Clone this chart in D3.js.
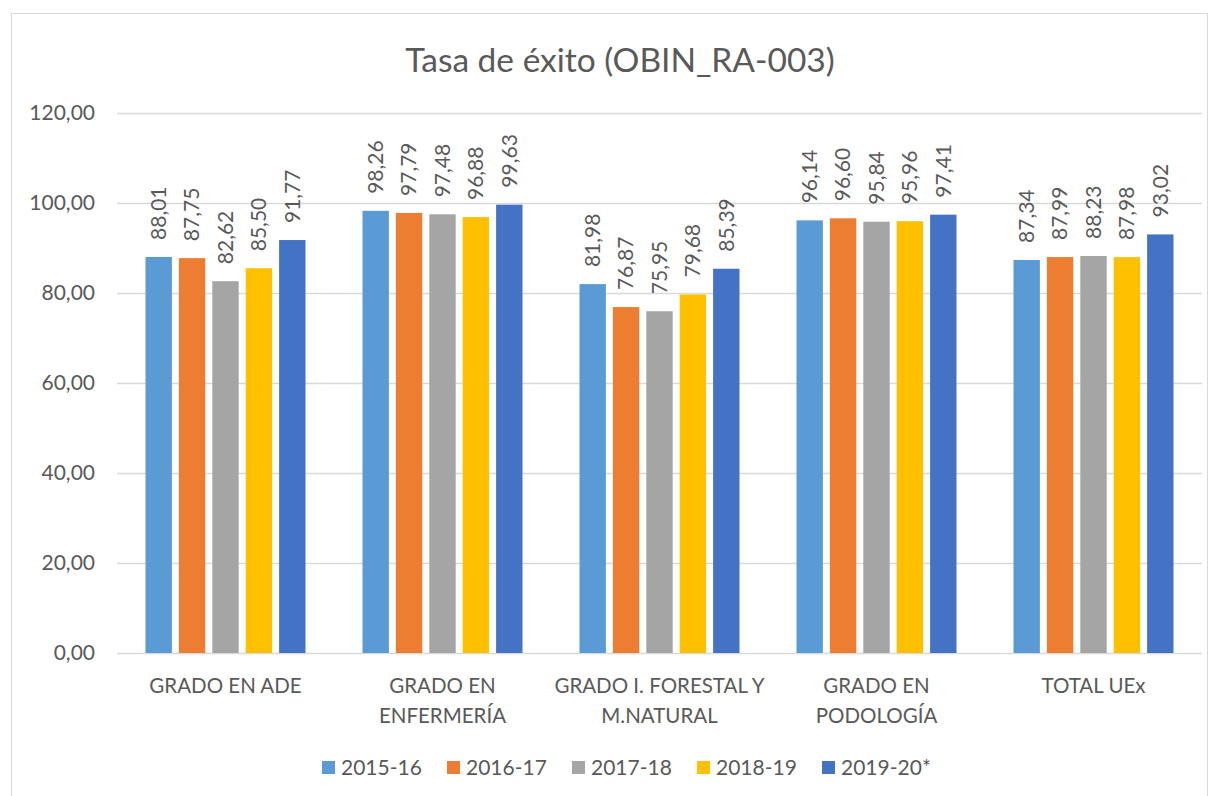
<!DOCTYPE html>
<html>
<head>
<meta charset="utf-8">
<script src="https://cdn.jsdelivr.net/npm/d3@7"></script>
<style>
  body { margin: 0; background: #fff; }
  text { font-family: Lato, "Open Sans", sans-serif; fill: #595959; }
</style>
</head>
<body>
<div id="chart"></div>
<script>
var categories = [["GRADO EN ADE"], ["GRADO EN", "ENFERMERÍA"], ["GRADO I. FORESTAL Y", "M.NATURAL"], ["GRADO EN", "PODOLOGÍA"], ["TOTAL UEx"]];
var seriesNames = ["2015-16", "2016-17", "2017-18", "2018-19", "2019-20*"];
var s2015 = [88.01, 98.26, 81.98, 96.14, 87.34];
var s2016 = [87.75, 97.79, 76.87, 96.60, 87.99];
var s2017 = [82.62, 97.48, 75.95, 95.84, 88.23];
var s2018 = [85.50, 96.88, 79.68, 95.96, 87.98];
var s2019 = [91.77, 99.63, 85.39, 97.41, 93.02];
var yTicks = [0, 20, 40, 60, 80, 100, 120];
var colors = ["#5B9BD5", "#ED7D31", "#A5A5A5", "#FFC000", "#4472C4"];

var series = [s2015, s2016, s2017, s2018, s2019];

var svg = d3.select("#chart").append("svg").attr("width", 1219).attr("height", 796);

// outer frame
svg.append("rect")
    .attr("x", 11.5).attr("y", 13.5).attr("width", 1196).attr("height", 800)
    .attr("fill", "none").attr("stroke", "#D9D9D9").attr("stroke-width", 1);

var fmt = function(v) { return d3.format(".2f")(v).replace(".", ","); };

var x0 = d3.scaleBand()
    .domain(d3.range(categories.length))
    .range([117, 1202]);

var x1 = d3.scaleBand()
    .domain(d3.range(seriesNames.length))
    .range([28.5, x0.bandwidth() - 28.5])
    .paddingInner(0.21);

var y = d3.scaleLinear()
    .domain([0, 120])
    .range([653, 113]);

// gridlines
svg.append("g")
  .selectAll("line")
  .data(yTicks)
  .enter().append("line")
    .attr("x1", 117).attr("x2", 1202)
    .attr("y1", function(d) { return Math.round(y(d)) + 0.5; })
    .attr("y2", function(d) { return Math.round(y(d)) + 0.5; })
    .attr("stroke", "#D9D9D9").attr("stroke-width", 1.5);

// y axis labels
svg.append("g")
  .selectAll("text")
  .data(yTicks)
  .enter().append("text")
    .attr("x", 95)
    .attr("y", function(d) { return y(d); })
    .attr("dy", "0.35em")
    .attr("text-anchor", "end")
    .attr("font-size", 21)
    .text(function(d) { return fmt(d); });

// bars
var groups = svg.append("g")
  .selectAll("g")
  .data(categories)
  .enter().append("g")
    .attr("transform", function(d, i) { return "translate(" + x0(i) + ",0)"; });

groups.selectAll("rect")
    .data(function(d, i) { return series.map(function(s, k) { return {k: k, value: s[i]}; }); })
    .enter().append("rect")
      .attr("x", function(d) { return x1(d.k); })
      .attr("y", function(d) { return y(d.value); })
      .attr("width", x1.bandwidth())
      .attr("height", function(d) { return y(0) - y(d.value); })
      .attr("fill", function(d) { return colors[d.k]; });

groups.selectAll("text.val")
    .data(function(d, i) { return series.map(function(s, k) { return {k: k, value: s[i]}; }); })
    .enter().append("text")
      .attr("class", "val")
      .attr("transform", function(d) {
        return "translate(" + (x1(d.k) + x1.bandwidth() / 2) + "," + (y(d.value) - 17) + ") rotate(-90)";
      })
      .attr("dy", "0.35em")
      .attr("text-anchor", "start")
      .attr("font-size", 21)
      .text(function(d) { return fmt(d.value); });

// category labels
groups.append("text")
    .attr("x", x0.bandwidth() / 2)
    .attr("text-anchor", "middle")
    .attr("font-size", 20.5)
  .selectAll("tspan")
  .data(function(d) { return d; })
  .enter().append("tspan")
    .attr("x", x0.bandwidth() / 2)
    .attr("y", function(d, j) { return 693 + j * 30; })
    .text(function(d) { return d; });

// title
svg.append("text")
    .attr("x", 620)
    .attr("y", 72)
    .attr("text-anchor", "middle")
    .attr("font-size", 33.5)
    .text("Tasa de éxito (OBIN_RA-003)");

// legend
var legend = svg.append("g")
  .selectAll("g")
  .data(seriesNames)
  .enter().append("g")
    .attr("transform", function(d, i) { return "translate(" + (322 + i * 125) + ",761)"; });

legend.append("rect")
    .attr("width", 13).attr("height", 13)
    .attr("fill", function(d, i) { return colors[i]; });

legend.append("text")
    .attr("x", 19)
    .attr("y", 6.5)
    .attr("dy", "0.35em")
    .attr("font-size", 21)
    .text(function(d) { return d; });
</script>
</body>
</html>
